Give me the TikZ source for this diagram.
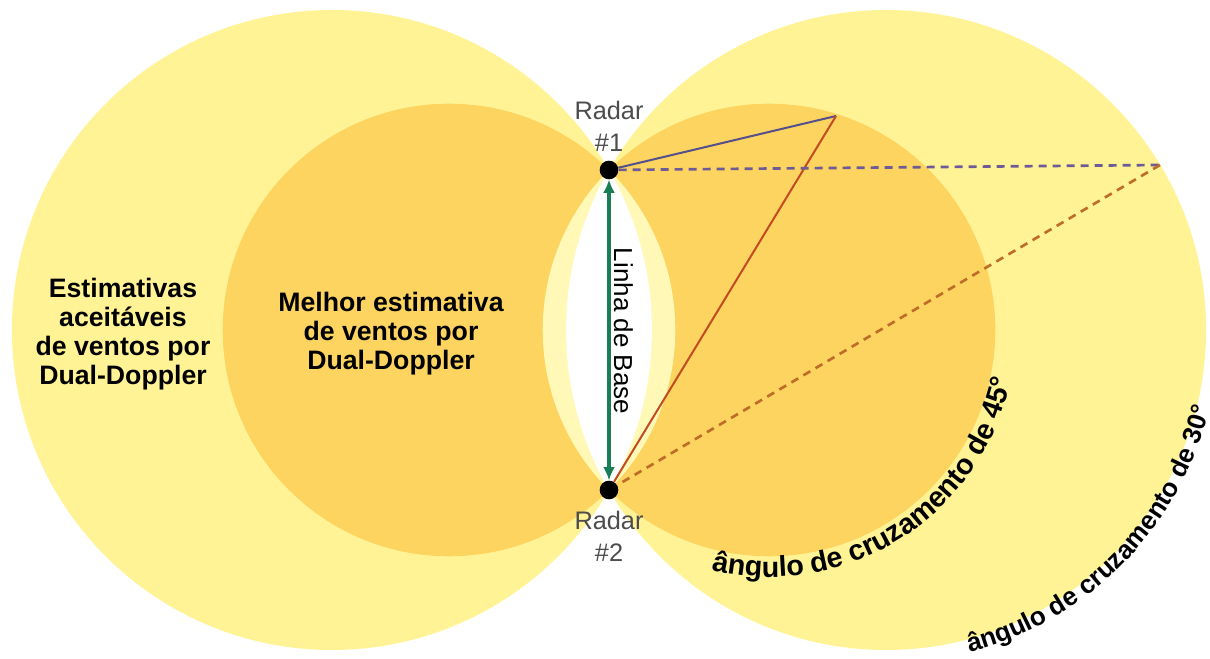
\documentclass[tikz,border=0pt]{standalone}
\usepackage{fontspec}
\setmainfont{Liberation Sans}
\usetikzlibrary{arrows.meta}
\usetikzlibrary{decorations.text}
\usetikzlibrary{positioning}
\definecolor{zonelight}{RGB}{255,243,150}
\definecolor{zonebest}{RGB}{253,212,95}
\definecolor{zonepale}{RGB}{255,248,182}
\definecolor{basegreen}{RGB}{25,125,85}
\definecolor{rayblue}{RGB}{85,80,140}
\definecolor{rayred}{RGB}{195,75,35}
\definecolor{raypurple}{RGB}{110,90,150}
\definecolor{raybrown}{RGB}{190,110,40}
\tikzset{radar/.style = {circle, fill=black, inner sep=0pt, minimum size=14pt},
         radarlabel/.style = {align=center, text=black!70,
                              font=\fontsize{19}{24}\selectfont},
         zonelabel/.style = {align=center, font=\bfseries\fontsize{20}{21.8}\selectfont},
         arclabel/.style = {decorate, decoration={text along path, text align=left}},
         ray/.style = {line width=1.5pt},
         dashray/.style = {line width=2pt, dash pattern=on 6pt off 4.5pt}}

\begin{document}
\begin{tikzpicture}[x=0.75pt, y=0.75pt]
  \useasboundingbox (0,0) rectangle (1210,659);
  \fill [zonelight] (331.9,329) circle [radius=320];
  \fill [zonelight] (886.1,329) circle [radius=320];
  \fill [zonebest] (449,329) circle [radius=226.3];
  \fill [zonebest] (769,329) circle [radius=226.3];
  \begin{scope}
    \clip (449,329) circle [radius=226.3];
    \fill [zonepale] (769,329) circle [radius=226.3];
  \end{scope}
  \begin{scope}
    \clip (331.9,329) circle [radius=320];
    \fill [white] (886.1,329) circle [radius=320];
  \end{scope}

  \node [radar] (r1) at (609,489) {};
  \node [radar] (r2) at (609,169) {};
  \node [radarlabel, above=3pt of r1] (r1label) {Radar\\\#1};
  \node [radarlabel, below=5pt of r2] (r2label) {Radar\\\#2};
  \coordinate (p45) at (836,543);
  \coordinate (p30) at (1160,494);

  \draw [ray, rayblue] (r1) -- (p45);
  \draw [ray, rayred] (p45) -- (r2);
  \draw [dashray, raypurple] (r1) -- (p30);
  \draw [dashray, raybrown] (p30) -- (r2);
  \draw [basegreen, line width=2.8pt, {Latex[length=10pt,width=9pt]}-{Latex[length=10pt,width=9pt]}] (r1) -- (r2);

  \node [rotate=-90, font=\fontsize{19.5}{20}\selectfont] (baselabel) at (623.5,328) {Linha de Base};
  \node [zonelabel] (acceptable) at (123,325) {Estimativas\\aceitáveis\\de ventos por\\Dual-Doppler};
  \node [zonelabel] (best) at (391,325) {Melhor estimativa\\de ventos por\\Dual-Doppler};

  \path [arclabel, decoration={text={|\bfseries\fontsize{21.5}{22}\selectfont|ângulo de cruzamento de 45°}}]
    (769,329) ++(-103.5:247) arc [start angle=-103.5, end angle=0, radius=247];
  \path [arclabel, decoration={text={|\bfseries\fontsize{19.5}{20}\selectfont|ângulo de cruzamento de 30°}}]
    (886.1,329) ++(-75.5:333) arc [start angle=-75.5, end angle=0, radius=333];
\end{tikzpicture}
\end{document}
